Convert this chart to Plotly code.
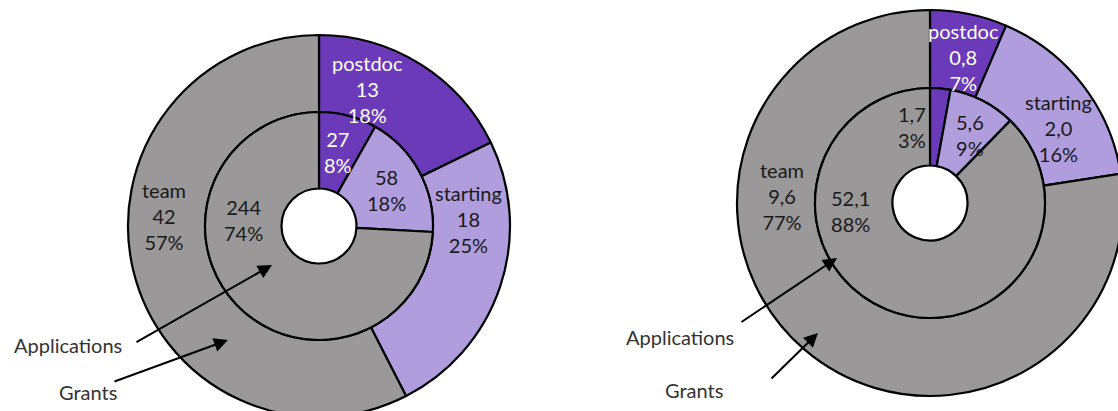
import plotly.graph_objects as go

# ---------------- data ----------------
categories = ["postdoc", "starting", "team"]

# left donut (counts)
left_grants = [13, 18, 42]
left_grants_pct = [18, 25, 57]
left_apps = [27, 58, 244]
left_apps_pct = [8, 18, 74]

# right donut (amounts)
right_grants = [0.8, 2.0, 9.6]
right_grants_pct = [7, 16, 77]
right_apps = [1.7, 5.6, 52.1]
right_apps_pct = [3, 9, 88]

colors = ["#6a3ab8", "#b09ddd", "#9a9898"]
label_colors = ["white", "#1a1a1a", "#1a1a1a"]

# figure is a little larger than the window so the donuts are cut at the edges
W, H = 1125, 420
FONT = "Lato, 'Open Sans', sans-serif"
FS = 20


def px(x, y):
    return x / W, (H - y) / H


def dom(cx, cy, r):
    x0, x1 = max(0, (cx - r) / W), min(1, (cx + r) / W)
    y0, y1 = max(0, (H - cy - r) / H), min(1, (H - cy + r) / H)
    return dict(x=[x0, x1], y=[y0, y1])


def fmt(v, decimals):
    if decimals == 0:
        return f"{v:.0f}"
    return f"{v:.{decimals}f}".replace(".", ",")


fig = go.Figure()

line = dict(color="black", width=2.2)

# left donut geometry
LC = (319, 226)
L_OUT, L_IN, HOLE = 191, 114, 37.5
# right donut geometry
RC = (930, 203)
R_OUT, R_IN = 193, 115

for vals, c, ro, hole in [
    (left_grants, LC, L_OUT, L_IN / L_OUT),
    (left_apps, LC, L_IN, HOLE / L_IN),
    (right_grants, RC, R_OUT, R_IN / R_OUT),
    (right_apps, RC, R_IN, HOLE / R_IN),
]:
    fig.add_trace(go.Pie(
        labels=categories, values=vals, sort=False, direction="clockwise",
        rotation=0, hole=hole, domain=dom(c[0], c[1], ro),
        marker=dict(colors=colors, line=line), textinfo="none",
        hoverinfo="label+value+percent", showlegend=False,
    ))

annotations = []


def add_label(text, x, y, color):
    xp, yp = px(x, y)
    annotations.append(dict(
        x=xp, y=yp, xref="paper", yref="paper", text=text, showarrow=False,
        font=dict(family=FONT, size=FS, color=color), align="center",
        xanchor="center", yanchor="middle"))


# label positions (pixel centres)
left_outer_pos = [(367, 89), (468, 219), (164, 216)]
left_inner_pos = [(338, 152), (386, 190), (243, 220)]
right_outer_pos = [(963, 57), (1058, 128), (782, 196)]
right_inner_pos = [(912, 127), (970, 135), (850, 211)]

for i, cat in enumerate(categories):
    add_label(f"{cat}<br>{fmt(left_grants[i], 0)}<br>{left_grants_pct[i]}%",
              *left_outer_pos[i], label_colors[i])
    add_label(f"{fmt(left_apps[i], 0)}<br>{left_apps_pct[i]}%",
              *left_inner_pos[i], label_colors[i])
    add_label(f"{cat}<br>{fmt(right_grants[i], 1)}<br>{right_grants_pct[i]}%",
              *right_outer_pos[i], label_colors[i])
    # right inner postdoc label sits on the grey slice next to it
    add_label(f"{fmt(right_apps[i], 1)}<br>{right_apps_pct[i]}%",
              *right_inner_pos[i], "#1a1a1a" if i == 0 else label_colors[i])

# captions
for text, x, y in [("Applications", 68, 345), ("Grants", 88, 392),
                   ("Applications", 680, 337), ("Grants", 694, 390)]:
    xp, yp = px(x, y)
    annotations.append(dict(
        x=xp, y=yp, xref="paper", yref="paper", text=text, showarrow=False,
        font=dict(family=FONT, size=FS, color="#333333"),
        xanchor="center", yanchor="middle"))

# arrows: (head x, head y, tail x, tail y)
for hx, hy, tx, ty in [(272, 265, 135, 343), (228, 340, 113, 382),
                       (837, 258, 740, 323), (818, 333, 770, 380)]:
    xp, yp = px(hx, hy)
    annotations.append(dict(
        x=xp, y=yp, xref="paper", yref="paper", text="", showarrow=True,
        ax=tx - hx, ay=ty - hy, axref="pixel", ayref="pixel",
        arrowhead=2, arrowsize=1.4, arrowwidth=2, arrowcolor="black"))

fig.update_layout(
    width=W, height=H, margin=dict(l=0, r=0, t=0, b=0),
    paper_bgcolor="white", plot_bgcolor="white",
    annotations=annotations,
)

fig.write_html(
    "out.html",
    config={"displayModeBar": False},
    post_script="document.body.style.margin='0px';"
                "document.body.style.overflow='hidden';",
)
